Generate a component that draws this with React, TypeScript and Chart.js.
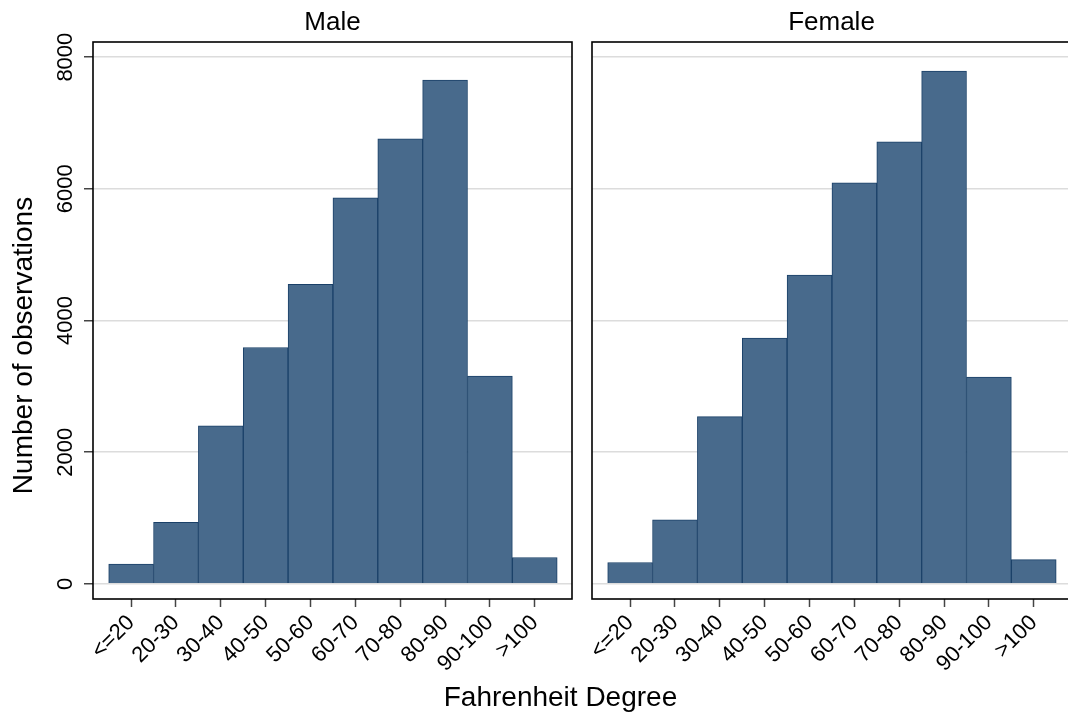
import { useEffect, useRef } from "react";
import { Chart, registerables } from "chart.js";

Chart.register(...registerables);

const categories = ["<=20", "20-30", "30-40", "40-50", "50-60", "60-70", "70-80", "80-90", "90-100", ">100"];
const maleCounts = [300, 935, 2400, 3590, 4550, 5865, 6760, 7650, 3157, 400];
const femaleCounts = [324, 971, 2540, 3734, 4691, 6092, 6715, 7787, 3142, 369];
const yTicks = [0, 2000, 4000, 6000, 8000];
const panelTitles = ["Male", "Female"];
const yAxisTitle = "Number of observations";
const xAxisTitle = "Fahrenheit Degree";

const FONT = '"Liberation Sans", Arial, Helvetica, sans-serif';
const BAR_FILL = "#486a8c";
const BAR_EDGE = "#1a4068";

const frameAndText = {
  id: "frameAndText",
  afterDraw(chart: any, _args: any, opts: any) {
    const { ctx, chartArea: a } = chart;
    ctx.save();
    ctx.strokeStyle = "#000";
    ctx.lineWidth = 1.6;
    ctx.strokeRect(a.left, a.top, a.right - a.left, a.bottom - a.top);
    ctx.fillStyle = "#000";
    ctx.textAlign = "center";
    ctx.textBaseline = "alphabetic";
    ctx.font = `26px ${FONT}`;
    ctx.fillText(opts.title, (a.left + a.right) / 2, 30);
    if (opts.left) {
      const ys = chart.scales.y;
      ctx.font = `22px ${FONT}`;
      for (const t of ys.ticks) {
        const py = ys.getPixelForValue(t.value);
        ctx.save();
        ctx.translate(71.5, py);
        ctx.rotate(-Math.PI / 2);
        ctx.fillText(String(t.value), 0, 0);
        ctx.restore();
      }
      ctx.font = `28px ${FONT}`;
      ctx.save();
      ctx.translate(31.5, 345.5);
      ctx.rotate(-Math.PI / 2);
      ctx.fillText(yAxisTitle, 0, 0);
      ctx.restore();
    }
    ctx.restore();
  },
};

function makeConfig(values: number[], title: string, isLeft: boolean, padLeft: number, padRight: number): any {
  return {
    type: "bar",
    data: {
      datasets: [
        {
          data: values.map((v, i) => ({ x: i, y: v })),
          backgroundColor: BAR_FILL,
          borderColor: BAR_EDGE,
          borderWidth: 1,
          barPercentage: 1,
          categoryPercentage: 1,
        },
      ],
    },
    options: {
      responsive: false,
      animation: false,
      devicePixelRatio: 1,
      layout: { padding: { left: padLeft, right: padRight, top: 42, bottom: 0 } },
      plugins: {
        legend: { display: false },
        tooltip: { enabled: false },
        title: { display: false },
        frameAndText: { title, left: isLeft },
      },
      scales: {
        x: {
          type: "linear",
          min: -0.85,
          max: 9.83,
          offset: false,
          afterBuildTicks: (scale: any) => {
            scale.ticks = categories.map((_, i) => ({ value: i }));
          },
          afterFit: (scale: any) => {
            scale.height = 129;
            scale.paddingLeft = 0;
            scale.paddingRight = 0;
          },
          ticks: {
            autoSkip: false,
            minRotation: 45,
            maxRotation: 45,
            padding: 3,
            color: "#000",
            font: { family: FONT, size: 22 },
            callback: (v: number) => categories[Math.round(v)] ?? "",
          },
          grid: {
            display: true,
            offset: false,
            drawOnChartArea: false,
            drawTicks: true,
            tickLength: 8,
            tickColor: "#444",
            tickWidth: 1.5,
          },
          border: { display: false },
        },
        y: {
          type: "linear",
          min: -230,
          max: 8230,
          afterBuildTicks: (scale: any) => {
            scale.ticks = yTicks.map((v) => ({ value: v }));
          },
          afterFit: (scale: any) => {
            scale.width = isLeft ? 9 : 0;
          },
          ticks: { display: false },
          grid: {
            display: true,
            color: "#dcdcdc",
            lineWidth: 1.5,
            drawTicks: isLeft,
            tickLength: 9,
            tickColor: "#444",
            tickWidth: 1.5,
          },
          border: { display: false },
        },
      },
    },
    plugins: [frameAndText],
  };
}

export default function App() {
  const leftRef = useRef<HTMLCanvasElement>(null);
  const rightRef = useRef<HTMLCanvasElement>(null);

  useEffect(() => {
    const c1 = new Chart(leftRef.current as HTMLCanvasElement, makeConfig(maleCounts, panelTitles[0], true, 84, 10));
    const c2 = new Chart(rightRef.current as HTMLCanvasElement, makeConfig(femaleCounts, panelTitles[1], false, 10, 11));
    return () => {
      c1.destroy();
      c2.destroy();
    };
  }, []);

  return (
    <div
      style={{
        position: "absolute",
        left: 0,
        top: 0,
        width: 1068,
        height: 728,
        overflow: "hidden",
        background: "#fff",
      }}
    >
      <canvas ref={leftRef} width={582} height={728} style={{ position: "absolute", left: 0, top: 0 }} />
      <canvas ref={rightRef} width={500} height={728} style={{ position: "absolute", left: 582, top: 0 }} />
      <div
        style={{
          position: "absolute",
          left: 0,
          top: 683,
          width: 1121,
          textAlign: "center",
          font: `28px/28px ${FONT}`,
          color: "#000",
          whiteSpace: "nowrap",
        }}
      >
        {xAxisTitle}
      </div>
    </div>
  );
}
